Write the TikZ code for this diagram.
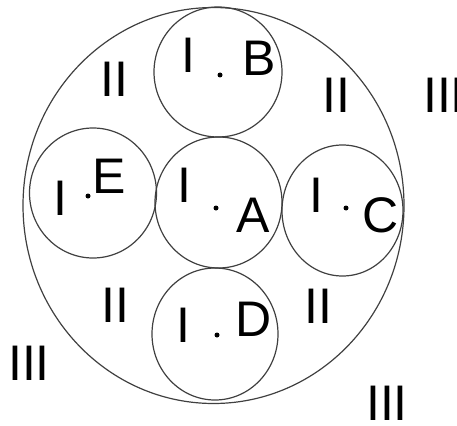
\documentclass[tikz,border=0pt]{standalone}
\usepackage{fontspec}
\setmainfont{Liberation Sans}
\usetikzlibrary{shapes.geometric}
\tikzset{
  zone/.style={draw=black!75, line width=1.2pt, ellipse, inner sep=0pt},
  pt/.style={circle, fill=black, inner sep=0pt, minimum size=5pt},
  lbl/.style={anchor=base, inner sep=0pt, text=black,
    font=\fontsize{50}{50}\selectfont}
}

\begin{document}
\begin{tikzpicture}[x=1pt, y=-1pt]
  \useasboundingbox (0,0) rectangle (457,425);
  % outer region and the five inner circles
  \node[zone, minimum width=381pt, minimum height=396pt] (out) at (213.5,205.5) {};
  \node[zone, minimum width=128pt, minimum height=130pt] (cB) at (218,72) {};
  \node[zone, minimum width=127pt, minimum height=131pt] (cA) at (218.5,202.5) {};
  \node[zone, minimum width=127pt, minimum height=130pt] (cE) at (93,193) {};
  \node[zone, minimum width=121pt, minimum height=131pt] (cC) at (342.5,210.5) {};
  \node[zone, minimum width=126pt, minimum height=132pt] (cD) at (215,334) {};

  % centre points
  \node[pt] (dB) at (220,75) {};
  \node[pt] (dA) at (216,208) {};
  \node[pt] (dE) at (88,196) {};
  \node[pt] (dC) at (346,208) {};
  \node[pt] (dD) at (217,335) {};

  % labels inside the circles
  \node[lbl] (iB) at (188,73) {I};
  \node[lbl] (nB) at (259,76) {B};
  \node[lbl] (iA) at (184,202) {I};
  \node[lbl] (nA) at (253,232) {A};
  \node[lbl] (iE) at (60,215) {I};
  \node[lbl] (nE) at (109,193) {E};
  \node[lbl] (iC) at (316,212) {I};
  \node[lbl] (nC) at (381,232) {C};
  \node[lbl] (iD) at (183,342) {I};
  \node[lbl] (nD) at (254,336) {D};

  % zones II and III
  \node[lbl] (tl) at (114,97) {II};
  \node[lbl] (tr) at (336,113) {II};
  \node[lbl] (bl) at (115,322) {II};
  \node[lbl] (br) at (318,323) {II};
  \node[lbl] (r3) at (444,112) {III};
  \node[lbl] (l3) at (29,380) {III};
  \node[lbl] (b3) at (387,420) {III};
\end{tikzpicture}
\end{document}
